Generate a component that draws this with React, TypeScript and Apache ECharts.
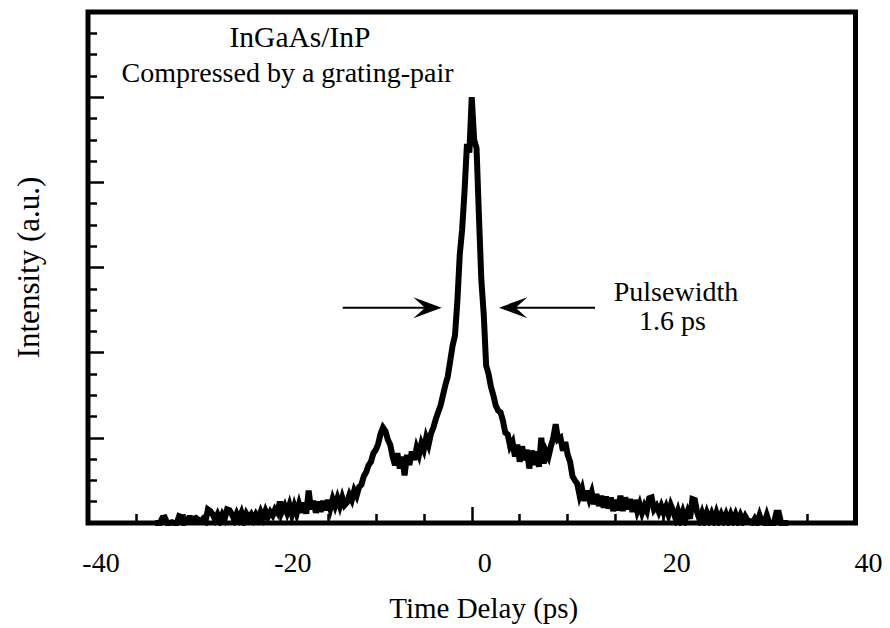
import React, { useEffect, useRef } from "react";
import * as echarts from "echarts";

// Axis ticks / ranges
const X_TICKS = [-40, -20, 0, 20, 40];
const Y_MIN = 0;
const Y_MAX = 6;

// Autocorrelation trace: uniformly sampled delay grid (ps) and measured intensity (a.u.)
const DELAY_START = -33;
const DELAY_STEP = 0.25;
const INTENSITY = [
  0, 0, 0, 0.06,
  0.065, 0, 0, 0.01,
  0, 0, 0.08, 0.07,
  0, 0.02, 0.06, 0.06,
  0.05, 0.06, 0.04, 0.02,
  0.05, 0.02, 0.16, 0.14,
  0.1, 0.04, 0.1, 0.03,
  0.1, 0.05, 0.16, 0.15,
  0.1, 0.04, 0.11, 0.05,
  0.12, 0.03, 0.11, 0.06,
  0.1, 0.04, 0.1, 0.05,
  0.13, 0.06, 0.14, 0.07,
  0.13, 0.09, 0.16, 0.12,
  0.25, 0.14, 0.2, 0.12,
  0.21, 0.1, 0.2, 0.11,
  0.22, 0.12, 0.24, 0.11,
  0.38, 0.16, 0.26, 0.12,
  0.25, 0.13, 0.26, 0.15,
  0.27, 0.17, 0.28, 0.2,
  0.29, 0.2, 0.3, 0.21,
  0.24, 0.33, 0.27, 0.38,
  0.32, 0.42, 0.45, 0.55,
  0.6, 0.68, 0.72, 0.82,
  0.86, 0.93, 1.05, 1.12,
  1.08, 0.98, 0.92, 0.78,
  0.68, 0.82, 0.64, 0.78,
  0.56, 0.8, 0.68, 0.84,
  0.74, 0.88, 0.8, 0.93,
  0.86, 1.0, 0.92, 1.05,
  1.12, 1.22, 1.3, 1.38,
  1.5, 1.62, 1.72, 1.9,
  2.08, 2.2, 2.6, 3.15,
  3.45, 3.9, 4.45, 4.35,
  5.0, 4.5, 4.4, 3.6,
  2.85, 2.45, 1.85, 1.75,
  1.6, 1.5, 1.38, 1.32,
  1.3, 1.2, 1.06, 1.04,
  0.9, 0.95, 0.78, 0.92,
  0.72, 0.9, 0.74, 0.86,
  0.64, 0.85, 0.68, 0.84,
  0.66, 1.0, 0.7, 0.84,
  0.78, 0.9, 1.0, 1.16,
  0.98, 1.0, 0.85, 0.95,
  0.8, 0.72, 0.55, 0.5,
  0.46, 0.32, 0.4, 0.26,
  0.38, 0.28, 0.36, 0.22,
  0.34, 0.2, 0.32, 0.18,
  0.31, 0.17, 0.3, 0.14,
  0.27, 0.15, 0.32, 0.14,
  0.3, 0.16, 0.28, 0.13,
  0.27, 0.14, 0.22, 0.12,
  0.2, 0.14, 0.29, 0.3,
  0.16, 0.2, 0.13, 0.2,
  0.12, 0.19, 0.1, 0.21,
  0.14, 0.05, 0.14, 0.04,
  0.13, 0.04, 0.13, 0.05,
  0.28, 0.27, 0.12, 0.04,
  0.12, 0.03, 0.12, 0.04,
  0.11, 0.03, 0.12, 0.03,
  0.1, 0.03, 0.1, 0.02,
  0.1, 0.03, 0.1, 0.02,
  0.09, 0.02, 0.08, 0.03,
  0.02, 0, 0.05, 0,
  0.09, 0.01, 0, 0.09,
  0, 0, 0, 0.12,
  0.12, 0, 0, 0,
  0,
];

const FONT = "Liberation Serif";

export default function App() {
  const ref = useRef<HTMLDivElement>(null);

  useEffect(() => {
    if (!ref.current) return;
    const chart = echarts.init(ref.current, null, { renderer: "svg" });
    const data = INTENSITY.map((v, i) => [DELAY_START + i * DELAY_STEP, v]);

    const textEl = (text: string, x: number, y: number, size: number) => ({
      type: "text",
      x,
      y,
      z: 10,
      style: {
        text,
        fill: "#000",
        fontSize: size,
        fontFamily: FONT,
        align: "center",
        verticalAlign: "middle",
        lineHeight: size,
      },
    });

    const arrowY = 307.7;

    chart.setOption({
      animation: false,
      backgroundColor: "#fff",
      grid: {
        left: 88,
        right: 34.5,
        top: 12,
        bottom: 105,
        show: true,
        borderColor: "#000",
        borderWidth: 5,
        backgroundColor: "transparent",
      },
      xAxis: {
        type: "value",
        min: X_TICKS[0],
        max: X_TICKS[X_TICKS.length - 1],
        interval: X_TICKS[1] - X_TICKS[0],
        name: "Time Delay (ps)",
        nameLocation: "middle",
        nameGap: 70,
        nameTextStyle: {
          color: "#000",
          fontSize: 29,
          fontFamily: FONT,
          padding: [0, 0, 0, 24],
        },
        axisLine: { show: false, onZero: false },
        axisTick: {
          show: true,
          inside: true,
          length: 16,
          lineStyle: { color: "#000", width: 2.5 },
        },
        minorTick: {
          show: true,
          splitNumber: 4,
          length: 9,
          lineStyle: { color: "#000", width: 2.5 },
        },
        axisLabel: {
          color: "#000",
          fontSize: 28,
          fontFamily: FONT,
          margin: 25,
          padding: [0, 0, 0, 26],
        },
        splitLine: { show: false },
      },
      yAxis: {
        type: "value",
        min: Y_MIN,
        max: Y_MAX,
        interval: 1,
        name: "Intensity (a.u.)",
        nameLocation: "middle",
        nameGap: 44,
        nameTextStyle: {
          color: "#000",
          fontSize: 31,
          fontFamily: FONT,
        },
        axisLine: { show: false, onZero: false },
        axisTick: {
          show: true,
          inside: true,
          length: 16,
          lineStyle: { color: "#000", width: 2.5 },
        },
        minorTick: {
          show: true,
          splitNumber: 4,
          length: 9,
          lineStyle: { color: "#000", width: 2.5 },
        },
        axisLabel: { show: false },
        splitLine: { show: false },
      },
      series: [
        {
          type: "line",
          data,
          showSymbol: false,
          symbol: "none",
          lineStyle: { color: "#000", width: 6, join: "miter" },
          clip: true,
          z: 3,
        },
      ],
      graphic: [
        textEl("InGaAs/InP", 300, 37, 29.5),
        textEl("Compressed by a grating-pair", 287.5, 72, 28),
        textEl("Pulsewidth", 676, 291.5, 28),
        textEl("1.6 ps", 672.5, 320, 28),
        {
          type: "line",
          z: 10,
          shape: { x1: 342.7, y1: arrowY, x2: 430, y2: arrowY },
          style: { stroke: "#000", lineWidth: 2 },
        },
        {
          type: "polygon",
          z: 10,
          shape: {
            points: [
              [441.7, arrowY],
              [413.3, arrowY - 10.5],
              [425, arrowY],
              [413.3, arrowY + 10.5],
            ],
          },
          style: { fill: "#000" },
        },
        {
          type: "line",
          z: 10,
          shape: { x1: 511, y1: arrowY, x2: 595, y2: arrowY },
          style: { stroke: "#000", lineWidth: 2 },
        },
        {
          type: "polygon",
          z: 10,
          shape: {
            points: [
              [499, arrowY],
              [527.4, arrowY - 10.5],
              [515.7, arrowY],
              [527.4, arrowY + 10.5],
            ],
          },
          style: { fill: "#000" },
        },
      ],
    });

    return () => chart.dispose();
  }, []);

  return (
    <div
      ref={ref}
      style={{
        position: "fixed",
        left: 0,
        top: 0,
        width: 890,
        height: 628,
        background: "#fff",
      }}
    />
  );
}
